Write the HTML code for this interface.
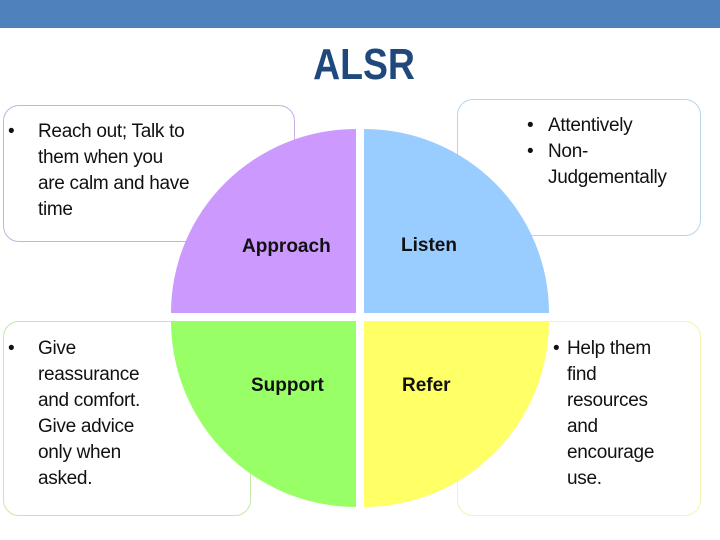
<!DOCTYPE html>
<html><head><meta charset="utf-8"><style>
body{margin:0;width:720px;height:540px;background:#fff;position:relative;overflow:hidden;font-family:"Liberation Sans",sans-serif}
.bar{position:absolute;left:0;top:0;width:720px;height:28px;background:#4f81bd}
.title{position:absolute;left:0;width:728px;top:40px;text-align:center;font-weight:bold;font-size:44px;color:#1f497d;transform:scaleX(0.85)}
.box{position:absolute;border:1.5px solid;border-radius:16px;box-sizing:border-box}
.t{position:absolute;font-size:19px;line-height:26px;color:#111;letter-spacing:-0.3px}
.lbl{position:absolute;font-size:19px;font-weight:bold;color:#111}
</style></head><body>
<div class="bar"></div>
<div class="title">ALSR</div>
<div class="box" style="left:3px;top:105px;width:292px;height:137px;border-color:#c5b0e0"></div>
<div class="box" style="left:457px;top:99px;width:244px;height:137px;border-color:#b8d4ec"></div>
<div class="box" style="left:3px;top:321px;width:248px;height:195px;border-color:#c4e8a8"></div>
<div class="box" style="left:457px;top:321px;width:244px;height:195px;border-color:#f4f4b0"></div>
<svg style="position:absolute;left:0;top:0" width="720" height="540">
<path d="M356 313 L171 313 A185 184 0 0 1 356 129 Z" fill="#cc99ff"/>
<path d="M364 313 L364 129 A185 184 0 0 1 549 313 Z" fill="#99ccff"/>
<path d="M356 321 L356 507 A185 186 0 0 1 171 321 Z" fill="#99ff66"/>
<path d="M364 321 L549 321 A185 186 0 0 1 364 507 Z" fill="#ffff66"/>
</svg>
<div class="t" style="left:8px;top:119px">•</div>
<div class="t" style="left:38px;top:119px">Reach out; Talk to<br>them when you<br>are calm and have<br>time</div>
<div class="t" style="left:527px;top:113px">•<br>•</div>
<div class="t" style="left:548px;top:113px">Attentively<br>Non-<br>Judgementally</div>
<div class="t" style="left:8px;top:336px">•</div>
<div class="t" style="left:38px;top:336px">Give<br>reassurance<br>and comfort.<br>Give advice<br>only when<br>asked.</div>
<div class="t" style="left:553px;top:336px">•</div>
<div class="t" style="left:567px;top:336px;text-align:left">Help them<br>find<br>resources<br>and<br>encourage<br>use.</div>
<div class="lbl" style="left:242px;top:236px">Approach</div>
<div class="lbl" style="left:401px;top:235px">Listen</div>
<div class="lbl" style="left:251px;top:375px">Support</div>
<div class="lbl" style="left:402px;top:375px">Refer</div>
</body></html>
